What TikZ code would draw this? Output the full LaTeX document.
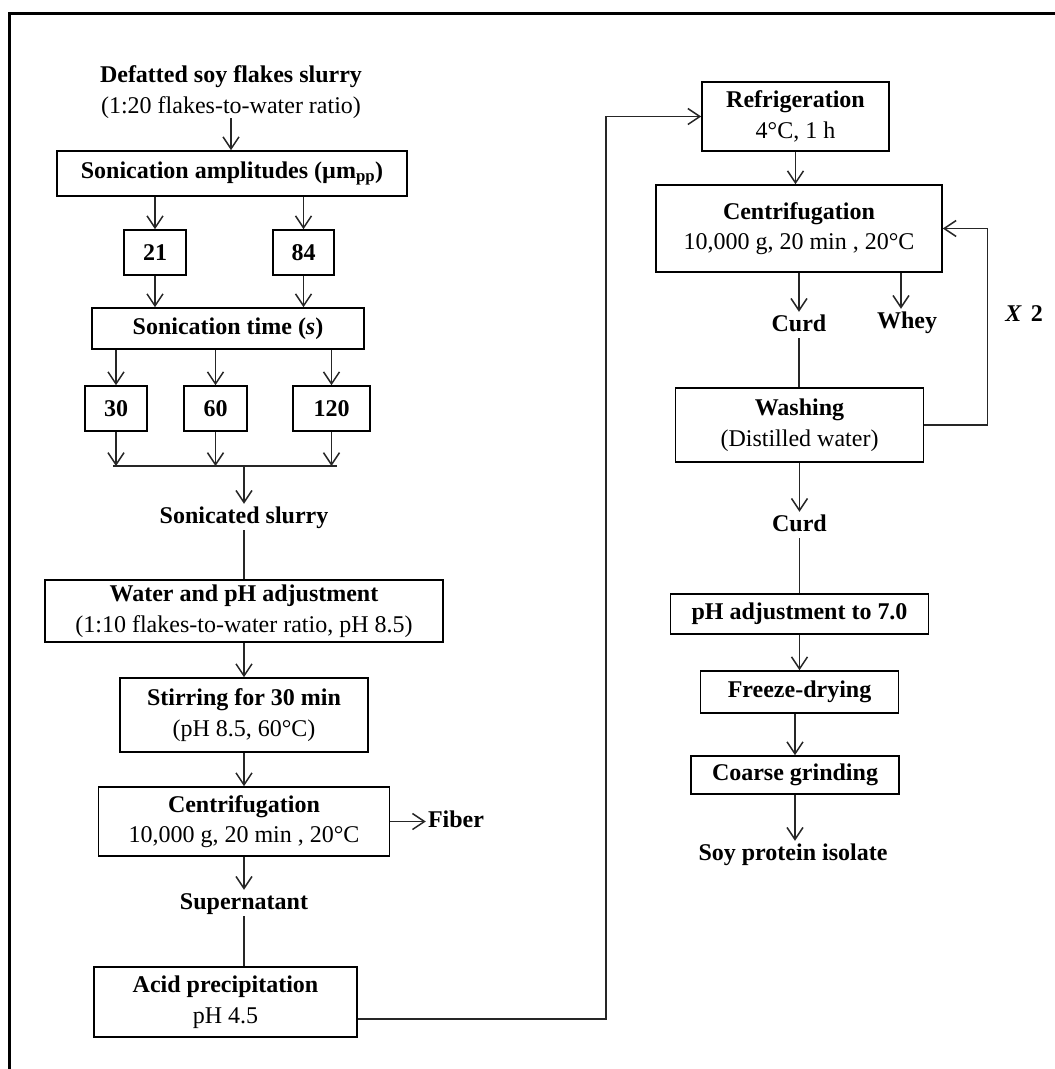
\documentclass[tikz,border=0pt]{standalone}
\usepackage{fontspec}
\setmainfont{Liberation Serif}
\usetikzlibrary{arrows.meta}
\begin{document}
\begin{tikzpicture}[x=1pt,y=-1pt,
  every node/.style={font=\fontsize{24}{30.5}\selectfont, inner sep=0pt, align=center},
  box/.style n args={2}{draw=black, line width=1.6pt, minimum width=#1, minimum height=#2},
  lbl/.style={text height=17pt, text depth=5pt, inner sep=2pt},
  arr/.style={draw=black!85, line width=1.5pt, -{Straight Barb[length=12pt,width=16pt]}},
  ln/.style={draw=black!85, line width=1.5pt}]
\useasboundingbox (0,0) rectangle (1055,1069);
\draw[line width=3pt] (9,1069) -- (9,13) -- (1055,13);

% left column
\node (title) at (231,92) {\textbf{Defatted soy flakes slurry}\\(1:20 flakes-to-water ratio)};
\node[box={350pt}{45pt}] (amp) at (232,173.5) {\textbf{Sonication amplitudes (µm\textsubscript{pp})}};
\node[box={62pt}{45pt}] (b21) at (155,252.5) {\textbf{21}};
\node[box={61pt}{45pt}] (b84) at (303.5,252.5) {\textbf{84}};
\node[box={272pt}{41pt}] (time) at (228,328.5) {\textbf{Sonication time (\textit{s})}};
\node[box={62pt}{45pt}] (b30) at (116,408.5) {\textbf{30}};
\node[box={63pt}{45pt}] (b60) at (215.5,408.5) {\textbf{60}};
\node[box={77pt}{45pt}] (b120) at (331.5,408.5) {\textbf{120}};
\coordinate (jl) at (113,466);
\coordinate (jr) at (337,466);
\coordinate (j) at (244,466);
\node[lbl] (sonic) at (244,517) {\textbf{Sonicated slurry}};
\node[box={398pt}{62pt}] (water) at (244,611) {\textbf{Water and pH adjustment}\\(1:10 flakes-to-water ratio, pH 8.5)};
\node[box={248pt}{74pt}] (stir) at (244,715) {\textbf{Stirring for 30 min}\\(pH 8.5, 60°C)};
\node[box={291pt}{69pt}] (cent1) at (244,821.5) {\textbf{Centrifugation}\\10,000 g, 20 min~, 20°C};
\node[lbl] (fiber) at (456,821.5) {\textbf{Fiber}};
\node[lbl] (super) at (244,903) {\textbf{Supernatant}};
\node[box={263pt}{70pt}] (acid) at (225.5,1002) {\textbf{Acid precipitation}\\pH 4.5};
\coordinate (k1) at (606,1019);
\coordinate (k2) at (606,116.5);

% right column
\node[box={187pt}{69pt}] (refr) at (795.5,116.5) {\textbf{Refrigeration}\\4°C, 1 h};
\node[box={286pt}{87pt}] (cent2) at (799,228.5) {\textbf{Centrifugation}\\10,000 g, 20 min~, 20°C};
\node[lbl] (curd1) at (799,325) {\textbf{Curd}};
\node[lbl] (whey) at (907,322) {\textbf{Whey}};
\node[lbl] (x2) at (1024,315) {\textbf{\textit{X}\hspace{9pt}2}};
\node[box={248pt}{74pt}] (wash) at (799.5,425) {\textbf{Washing}\\(Distilled water)};
\node[lbl] (curd2) at (799.5,525) {\textbf{Curd}};
\node[box={258pt}{40pt}] (ph) at (799.5,614) {\textbf{pH adjustment to 7.0}};
\node[box={198pt}{42pt}] (freeze) at (799.5,692) {\textbf{Freeze-drying}};
\node[box={208pt}{38pt}] (grind) at (795,775) {\textbf{Coarse grinding}};
\node[lbl] (spi) at (793,854) {\textbf{Soy protein isolate}};

% connectors left
\draw[arr] (title.south) -- (title.south |- amp.north);
\draw[arr] (amp.south -| b21.north) -- (b21.north);
\draw[arr] (amp.south -| b84.north) -- (b84.north);
\draw[arr] (b21.south) -- (b21.south |- time.north);
\draw[arr] (b84.south) -- (b84.south |- time.north);
\draw[arr] (time.south -| b30.north) -- (b30.north);
\draw[arr] (time.south -| b60.north) -- (b60.north);
\draw[arr] (time.south -| b120.north) -- (b120.north);
\draw[arr] (b30.south) -- (b30.south |- j);
\draw[arr] (b60.south) -- (b60.south |- j);
\draw[arr] (b120.south) -- (b120.south |- j);
\draw[ln] (jl) -- (jr);
\draw[arr] (j) -- (sonic.north);
\draw[ln] (sonic.south) -- (sonic.south |- water.north);
\draw[arr] (water.south) -- (water.south |- stir.north);
\draw[arr] (stir.south) -- (stir.south |- cent1.north);
\draw[arr] (cent1.east) -- (fiber.west);
\draw[arr] (cent1.south) -- (cent1.south |- super.north);
\draw[ln] (super.south) -- (super.south |- acid.north);
\draw[arr] (acid.east |- k1) -- (k1) -- (k2) -- (refr.west);

% connectors right
\draw[arr] (refr.south) -- (refr.south |- cent2.north);
\draw[arr] (curd1.north |- cent2.south) -- (curd1.north);
\draw[arr] ([xshift=-6pt]whey.north |- cent2.south) -- ([xshift=-6pt]whey.north);
\draw[ln] (curd1.south) -- (curd1.south |- wash.north);
\draw[arr] (wash.east) -- ++(63,0) |- (cent2.east);
\draw[arr] (wash.south) -- (wash.south |- curd2.north);
\draw[ln] (curd2.south) -- (curd2.south |- ph.north);
\draw[arr] (ph.south) -- (ph.south |- freeze.north);
\draw[arr] (freeze.south -| grind.north) -- (grind.north);
\draw[arr] (grind.south) -- (grind.south |- spi.north);
\end{tikzpicture}
\end{document}
